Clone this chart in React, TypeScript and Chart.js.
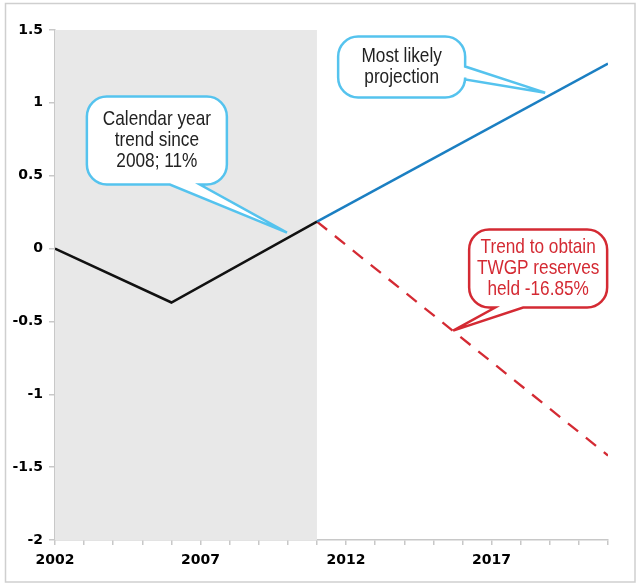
import React, { useEffect, useRef } from "react";
import { Chart, registerables } from "chart.js";

Chart.register(...registerables);

// ---- data ----
const historyYears = [2002, 2006, 2011];
const historyValues = [0, -0.37, 0.185];
const projectionYears = [2011, 2021];
const likelyValues = [0.185, 1.27];
const reserveValues = [0.185, -1.42];
const shadeRange = [2002, 2011];
const xTickLabelYears = [2002, 2007, 2012, 2017];
const yTickValues = [1.5, 1, 0.5, 0, -0.5, -1, -1.5, -2];

const calloutTexts = [
  ["Calendar year", "trend since", "2008; 11%"],
  ["Most likely", "projection"],
  ["Trend to obtain", "TWGP reserves", "held -16.85%"],
];

type CalloutCfg = {
  lines: string[];
  cx: number; cy: number; w: number; h: number;
  tipX: number; tipY: number;
  side: "bottom" | "right"; b1: number; b2: number;
  border: string; text: string;
};

const callouts: CalloutCfg[] = [
  { lines: calloutTexts[0], cx: 2005.5, cy: 0.741, w: 140, h: 88, tipX: 2009.97, tipY: 0.11, side: "bottom", b1: 83, b2: 113, border: "#55c3ee", text: "#222222" },
  { lines: calloutTexts[1], cx: 2013.91, cy: 1.246, w: 127, h: 61, tipX: 2018.84, tipY: 1.07, side: "right", b1: 30, b2: 43, border: "#55c3ee", text: "#222222" },
  { lines: calloutTexts[2], cx: 2018.6, cy: -0.137, w: 138, h: 78, tipX: 2015.68, tipY: -0.563, side: "bottom", b1: 26, b2: 54, border: "#d42a33", text: "#d42a33" },
];

const CALLOUT_FONT = '21px "Liberation Sans", Arial, sans-serif';
const NARROW = 0.82;
const AXIS_COLOR = "#c8c8c8";

const toPts = (xs: number[], ys: number[]) => xs.map((x, i) => ({ x, y: ys[i] }));

export default function App() {
  const ref = useRef<HTMLCanvasElement | null>(null);

  useEffect(() => {
    document.body.style.margin = "0";
    const canvas = ref.current;
    if (!canvas) return;

    const framePlugin = {
      id: "frame",
      beforeDraw(chart: any) {
        const ctx = chart.ctx;
        ctx.save();
        ctx.fillStyle = "#ffffff";
        ctx.fillRect(0, 0, chart.width, chart.height);
        ctx.strokeStyle = "#cfcfcf";
        ctx.lineWidth = 1.5;
        ctx.strokeRect(5.5, 3.5, chart.width - 3 - 5.5, chart.height - 3 - 3.5);
        ctx.restore();
      },
      beforeDatasetsDraw(chart: any) {
        const { ctx, chartArea, scales } = chart;
        const x0 = scales.x.getPixelForValue(shadeRange[0]);
        const x1 = scales.x.getPixelForValue(shadeRange[1]);
        ctx.save();
        ctx.fillStyle = "#e8e8e8";
        ctx.fillRect(x0, chartArea.top, x1 - x0, chartArea.bottom - chartArea.top);
        ctx.restore();
      },
      afterDatasetsDraw(chart: any) {
        const { ctx, scales } = chart;
        ctx.save();
        for (const c of callouts) {
          const cx = scales.x.getPixelForValue(c.cx);
          const cy = scales.y.getPixelForValue(c.cy);
          const tx = scales.x.getPixelForValue(c.tipX);
          const ty = scales.y.getPixelForValue(c.tipY);
          const x0 = cx - c.w / 2, y0 = cy - c.h / 2;
          const x1 = x0 + c.w, y1 = y0 + c.h;
          const r = 20;
          ctx.beginPath();
          ctx.moveTo(x0 + r, y0);
          ctx.lineTo(x1 - r, y0);
          ctx.arcTo(x1, y0, x1, y0 + r, r);
          if (c.side === "right") {
            ctx.lineTo(x1, y0 + c.b1);
            ctx.lineTo(tx, ty);
            ctx.lineTo(x1, y0 + c.b2);
          }
          ctx.lineTo(x1, y1 - r);
          ctx.arcTo(x1, y1, x1 - r, y1, r);
          if (c.side === "bottom") {
            ctx.lineTo(x0 + c.b2, y1);
            ctx.lineTo(tx, ty);
            ctx.lineTo(x0 + c.b1, y1);
          }
          ctx.lineTo(x0 + r, y1);
          ctx.arcTo(x0, y1, x0, y1 - r, r);
          ctx.lineTo(x0, y0 + r);
          ctx.arcTo(x0, y0, x0 + r, y0, r);
          ctx.closePath();
          ctx.fillStyle = "#ffffff";
          ctx.fill();
          ctx.lineWidth = 2.5;
          ctx.lineJoin = "miter";
          ctx.miterLimit = 10;
          ctx.strokeStyle = c.border;
          ctx.stroke();

          ctx.fillStyle = c.text;
          ctx.font = CALLOUT_FONT;
          ctx.textAlign = "center";
          ctx.textBaseline = "middle";
          const lh = 21;
          const startY = cy - ((c.lines.length - 1) * lh) / 2;
          c.lines.forEach((ln, i) => {
            ctx.save();
            ctx.translate(cx, startY + i * lh);
            ctx.scale(NARROW, 1);
            ctx.fillText(ln, 0, 0);
            ctx.restore();
          });
        }
        ctx.restore();
      },
    };

    const tickFont = { family: '"DejaVu Sans", sans-serif', size: 14, weight: "bold" };

    const chart = new Chart(canvas, {
      type: "line",
      data: {
        datasets: [
          {
            data: toPts(historyYears, historyValues),
            borderColor: "#111111",
            borderWidth: 2.5,
            pointRadius: 0,
            tension: 0,
          },
          {
            data: toPts(projectionYears, likelyValues),
            borderColor: "#1b7fc2",
            borderWidth: 2.5,
            pointRadius: 0,
            tension: 0,
          },
          {
            data: toPts(projectionYears, reserveValues),
            borderColor: "#d42a33",
            borderWidth: 2.3,
            borderDash: [13, 10],
            pointRadius: 0,
            tension: 0,
          },
        ],
      },
      options: {
        animation: false,
        responsive: false,
        events: [],
        layout: { padding: { left: 0, right: 30, top: 30, bottom: 0 } },
        plugins: { legend: { display: false }, tooltip: { enabled: false } },
        scales: {
          x: {
            type: "linear",
            min: 2002,
            max: 2021,
            afterFit: (s: any) => { s.height = 45; },
            afterBuildTicks: (s: any) => {
              const t = [];
              for (let v = 2002; v <= 2021; v++) t.push({ value: v });
              s.ticks = t;
            },
            ticks: {
              autoSkip: false,
              maxRotation: 0,
              padding: 7,
              color: "#000000",
              font: tickFont,
              callback: (v: any) => (xTickLabelYears.includes(Number(v)) ? String(v) : ""),
            },
            grid: { drawOnChartArea: false, drawTicks: true, tickLength: 5, color: AXIS_COLOR, lineWidth: 1.5 },
            border: { display: true, color: AXIS_COLOR, width: 1.5 },
          },
          y: {
            type: "linear",
            min: -2,
            max: 1.5,
            afterFit: (s: any) => { s.width = 55; },
            afterBuildTicks: (s: any) => {
              s.ticks = yTickValues.slice().reverse().map((v) => ({ value: v }));
            },
            ticks: {
              padding: 6,
              color: "#000000",
              font: tickFont,
              callback: (v: any) => String(Number(v)),
            },
            grid: { drawOnChartArea: false, drawTicks: true, tickLength: 6, color: AXIS_COLOR, lineWidth: 1.5 },
            border: { display: true, color: AXIS_COLOR, width: 1.5 },
          },
        },
      },
      plugins: [framePlugin],
    } as any);

    return () => chart.destroy();
  }, []);

  return (
    <div style={{ width: 638, height: 585 }}>
      <canvas ref={ref} width={638} height={585} style={{ display: "block", width: 638, height: 585 }} />
    </div>
  );
}
